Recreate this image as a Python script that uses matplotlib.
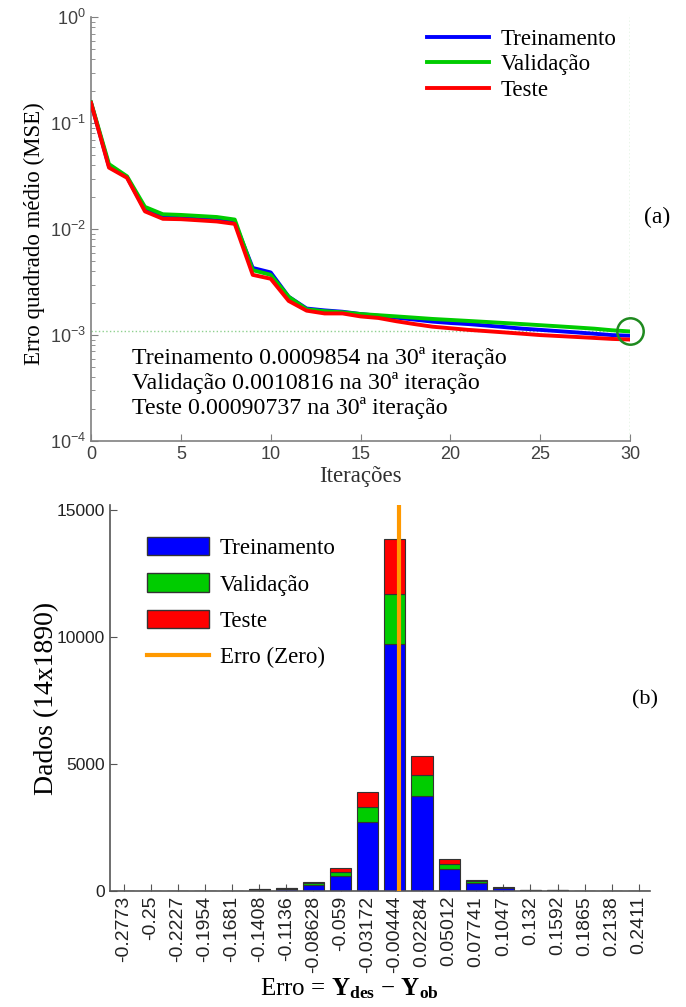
import numpy as np
import matplotlib
matplotlib.use("Agg")
import matplotlib.pyplot as plt
from matplotlib.patches import Patch
from matplotlib.lines import Line2D

# ---------------- data ----------------
iters = list(range(31))
mse_train = [0.155, 0.039, 0.031, 0.0152, 0.0129, 0.0127, 0.0124, 0.0121, 0.0116, 0.0043, 0.0039,
             0.0023, 0.00178, 0.00171, 0.00166, 0.00158, 0.00152, 0.00146, 0.0014, 0.00134, 0.0013,
             0.00127, 0.00123, 0.00119, 0.00115, 0.00112, 0.00109, 0.00106, 0.00103, 0.001, 0.0009854]
mse_val = [0.157, 0.041, 0.0315, 0.0162, 0.0138, 0.0136, 0.0133, 0.013, 0.0123, 0.0041, 0.0037,
           0.0023, 0.00175, 0.00168, 0.00164, 0.00158, 0.00154, 0.0015, 0.00146, 0.00142, 0.00139,
           0.00136, 0.00133, 0.0013, 0.00127, 0.00124, 0.00121, 0.00118, 0.00115, 0.00111, 0.0010816]
mse_test = [0.155, 0.038, 0.0305, 0.0147, 0.0125, 0.0124, 0.0121, 0.0118, 0.0112, 0.0037, 0.0034,
            0.0021, 0.0017, 0.0016, 0.0016, 0.0015, 0.00145, 0.00135, 0.00127, 0.0012, 0.00116,
            0.00112, 0.00109, 0.00106, 0.00103, 0.001, 0.00098, 0.00096, 0.00094, 0.00092, 0.00090737]
best_iter = 30
best_val = 0.0010816

bin_labels = ["-0.2773", "-0.25", "-0.2227", "-0.1954", "-0.1681", "-0.1408", "-0.1136", "-0.08628",
              "-0.059", "-0.03172", "-0.00444", "0.02284", "0.05012", "0.07741", "0.1047", "0.132",
              "0.1592", "0.1865", "0.2138", "0.2411"]
bin_centers = [float(s) for s in bin_labels]
cnt_train = [2, 3, 4, 6, 10, 50, 95, 250, 600, 2720, 9710, 3760, 860, 310, 110, 40, 25, 6, 3, 2]
cnt_val = [0, 1, 1, 1, 2, 10, 15, 60, 160, 570, 2000, 790, 190, 70, 20, 6, 4, 1, 1, 0]
cnt_test = [0, 1, 1, 1, 2, 10, 15, 60, 130, 610, 2150, 780, 200, 50, 15, 6, 4, 1, 0, 0]

# ---------------- style ----------------
SERIF = ["Liberation Serif", "DejaVu Serif"]
SANS = ["Liberation Sans", "DejaVu Sans"]
plt.rcParams["font.family"] = SERIF
plt.rcParams["mathtext.fontset"] = "custom"
plt.rcParams["mathtext.rm"] = "Liberation Serif"
plt.rcParams["mathtext.bf"] = "Liberation Serif:bold"
plt.rcParams["mathtext.it"] = "Liberation Serif:italic"

BLUE = "#0000ff"
GREEN = "#00cc00"
RED = "#ff0000"
TICKC = "#404040"

fig = plt.figure(figsize=(6.86, 10.07), dpi=100)

# ---------------- (a) ----------------
ax1 = fig.add_axes([0.1327, 0.562, 0.7857, 0.421])
ax1.semilogy(iters, mse_train, color=BLUE, lw=2.8, label="Treinamento", zorder=3)
ax1.semilogy(iters, mse_val, color=GREEN, lw=2.8, label="Validação", zorder=3)
ax1.semilogy(iters, mse_test, color=RED, lw=2.8, label="Teste", zorder=4)
ax1.axhline(best_val, color="#8fd18f", ls=":", lw=1.0, zorder=1)
ax1.axvline(best_iter, color="#8fd18f", ls=":", lw=1.0, zorder=1)
ax1.plot([best_iter], [best_val], marker="o", ms=19, mfc="none", mec="#1f8a1f", mew=1.8,
         clip_on=False, zorder=5)
ax1.set_xlim(0, 30)
ax1.set_ylim(1e-4, 1)
ax1.set_xticks([0, 5, 10, 15, 20, 25, 30])
for s in ["top", "right"]:
    ax1.spines[s].set_visible(False)
for s in ["left", "bottom"]:
    ax1.spines[s].set_color("#808080")
    ax1.spines[s].set_linewidth(1.2)
ax1.tick_params(which="both", direction="in", colors="#808080", labelcolor=TICKC, labelsize=13)
ax1.tick_params(which="major", length=5)
ax1.tick_params(which="minor", length=3)
for lab in ax1.get_xticklabels() + ax1.get_yticklabels():
    lab.set_family(SANS)
ax1.set_ylabel("Erro quadrado médio (MSE)", fontsize=16.5, labelpad=0)
ax1.yaxis.set_label_coords(-0.085, 0.49)
ax1.set_xlabel("Iterações", fontsize=16.5, color="#303030", labelpad=2)
ax1.legend(loc="upper right", bbox_to_anchor=(1.0, 1.005), frameon=False, fontsize=16.5,
           handlelength=2.7, labelspacing=0.2, borderaxespad=0.2, handletextpad=0.5)
ax1.text(0.076, 0.222,
         "Treinamento 0.0009854 na 30ª iteração\nValidação 0.0010816 na 30ª iteração\nTeste 0.00090737 na 30ª iteração",
         transform=ax1.transAxes, fontsize=17.2, va="top", ha="left", linespacing=1.17)
fig.text(657 / 686, 1 - 217 / 1007, "(a)", fontsize=17, ha="center", va="center")

# ---------------- (b) ----------------
ax2 = fig.add_axes([0.1603, 0.1152, 0.787, 0.3833])
x = np.arange(len(bin_labels))
tr = np.array(cnt_train)
va = np.array(cnt_val)
te = np.array(cnt_test)
w = 0.78
ax2.bar(x, tr, width=w, color=BLUE, edgecolor="#333333", lw=0.8, zorder=2)
ax2.bar(x, va, width=w, bottom=tr, color=GREEN, edgecolor="#333333", lw=0.8, zorder=2)
ax2.bar(x, te, width=w, bottom=tr + va, color=RED, edgecolor="#333333", lw=0.8, zorder=2)
zero_pos = np.interp(0.0, bin_centers, x)
ax2.axvline(zero_pos, color="#ff9900", lw=3, zorder=3)
ax2.set_xlim(-0.5, 19.4)
ax2.set_ylim(0, 15200)
ax2.set_yticks([0, 5000, 10000, 15000])
ax2.set_xticks(x)
ax2.set_xticklabels(bin_labels, rotation=90)
for s in ["top", "right"]:
    ax2.spines[s].set_visible(False)
for s in ["left", "bottom"]:
    ax2.spines[s].set_color("#555555")
    ax2.spines[s].set_linewidth(1.2)
ax2.tick_params(direction="in", colors="#555555", labelcolor="#222222", length=5)
ax2.tick_params(axis="x", labelsize=14)
ax2.tick_params(axis="y", labelsize=12.5)
for lab in ax2.get_xticklabels() + ax2.get_yticklabels():
    lab.set_family(SANS)
ax2.set_ylabel("Dados (14x1890)", fontsize=20, labelpad=-2)
ax2.set_xlabel(r"Erro = $\mathbf{Y}_{\mathbf{des}}$ $-$ $\mathbf{Y}_{\mathbf{ob}}$", fontsize=18, labelpad=4)
ax2.xaxis.set_label_coords(0.444, -0.222)
handles = [Patch(facecolor=BLUE, edgecolor="#333333", label="Treinamento"),
           Patch(facecolor=GREEN, edgecolor="#333333", label="Validação"),
           Patch(facecolor=RED, edgecolor="#333333", label="Teste"),
           Line2D([0], [0], color="#ff9900", lw=3, label="Erro (Zero)")]
ax2.legend(handles=handles, loc="upper left", bbox_to_anchor=(0.03, 0.97), frameon=False,
           fontsize=16.5, handlelength=2.7, handleheight=0.85, labelspacing=0.62, handletextpad=0.5)
fig.text(645 / 686, 1 - 700 / 1007, "(b)", fontsize=16, ha="center", va="center")

fig.savefig("out.png", dpi=100)
